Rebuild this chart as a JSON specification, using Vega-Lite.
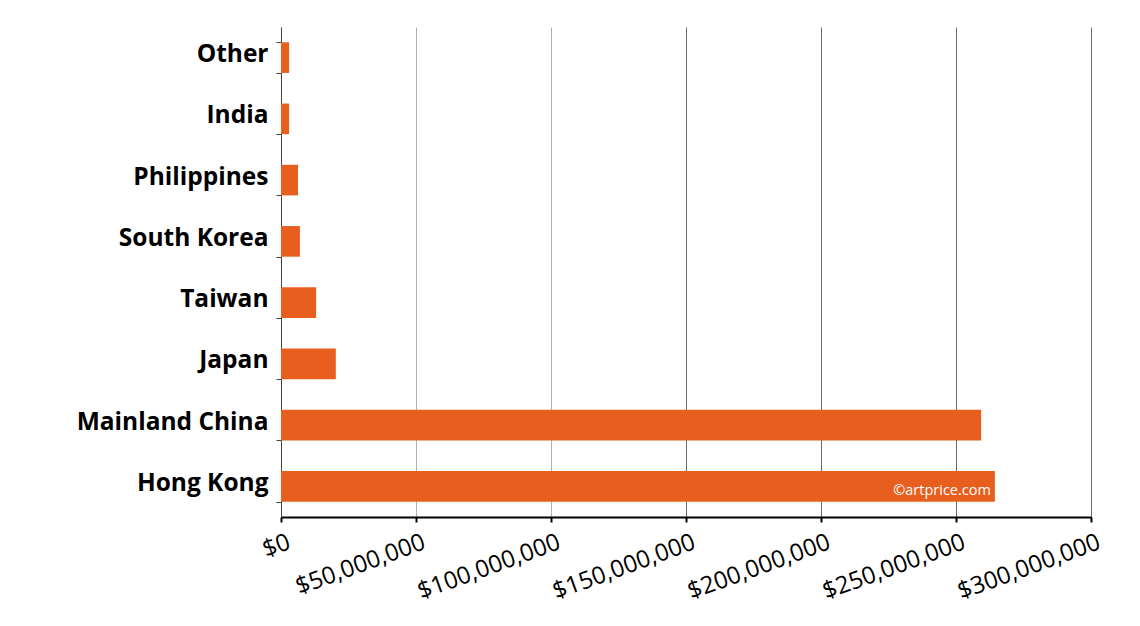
{
  "$schema": "https://vega.github.io/schema/vega-lite/v6.json",
  "width": 810,
  "height": 490,
  "autosize": {"type": "none"},
  "padding": {"left": 281, "top": 27, "right": 49, "bottom": 109},
  "background": "white",
  "config": {
    "view": {"stroke": null},
    "font": "Open Sans"
  },
  "data": {
    "values": [
      {"country": "Other", "value": 3000000, "note": ""},
      {"country": "India", "value": 3000000, "note": ""},
      {"country": "Philippines", "value": 6300000, "note": ""},
      {"country": "South Korea", "value": 7000000, "note": ""},
      {"country": "Taiwan", "value": 13000000, "note": ""},
      {"country": "Japan", "value": 20300000, "note": ""},
      {"country": "Mainland China", "value": 259300000, "note": ""},
      {"country": "Hong Kong", "value": 264400000, "note": "©artprice.com"}
    ]
  },
  "encoding": {
    "y": {
      "field": "country",
      "type": "nominal",
      "sort": null,
      "scale": {"paddingInner": 0.5, "paddingOuter": 0.25},
      "axis": {
        "title": null,
        "labelFont": "Open Sans",
        "labelFontWeight": "bold",
        "labelFontSize": 24.5,
        "labelColor": "#000000",
        "labelPadding": 8,
        "labelOffset": -3,
        "labelLimit": 400,
        "tickBand": "extent",
        "tickSize": 5,
        "tickColor": "#444444",
        "domainColor": "#444444",
        "domainWidth": 1,
        "grid": false
      }
    },
    "x": {
      "field": "value",
      "type": "quantitative",
      "scale": {"domain": [0, 300000000], "nice": false},
      "axis": {
        "title": null,
        "values": [0, 50000000, 100000000, 150000000, 200000000, 250000000, 300000000],
        "format": "$,.0f",
        "labelFont": "Open Sans",
        "labelFontSize": 24,
        "labelColor": "#000000",
        "labelAngle": -20,
        "labelAlign": "right",
        "labelBaseline": "top",
        "labelPadding": 8,
        "labelOffset": 4,
        "labelOverlap": false,
        "labelLimit": 400,
        "tickSize": 5,
        "tickWidth": 2,
        "tickColor": "#000000",
        "domainColor": "#000000",
        "domainWidth": 2,
        "grid": true,
        "gridColor": {"condition": {"test": "datum.value < 120000000", "value": "#b0b0b0"}, "value": "#6a6a6a"},
        "gridWidth": 1
      }
    }
  },
  "layer": [
    {
      "mark": {"type": "bar", "color": "#E85E1F"}
    },
    {
      "mark": {"type": "text", "align": "right", "baseline": "middle", "dx": -4, "dy": 5, "color": "#ffffff", "fontSize": 14.5, "font": "Open Sans"},
      "encoding": {"text": {"field": "note"}}
    }
  ]
}
